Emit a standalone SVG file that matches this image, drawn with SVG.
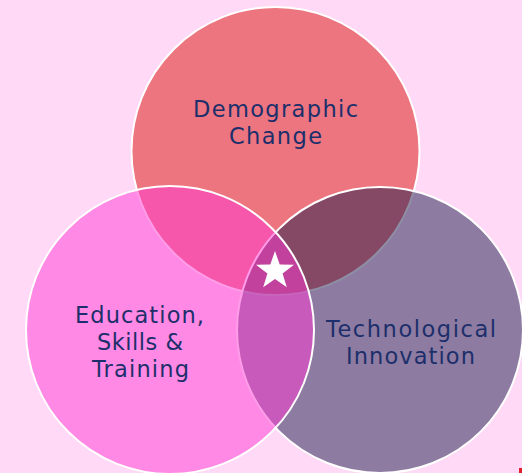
<svg xmlns="http://www.w3.org/2000/svg" width="522" height="473" viewBox="0 0 522 473">
  <style>
    .ring { stroke: #ffffff; stroke-width: 2; }
    .label { font-family: "DejaVu Sans", "Noto Sans", sans-serif; font-size: 22.5px; fill: #1c2f6b; text-anchor: middle; }
  </style>
  <defs>
    <polygon id="star" points="0,-20 4.7,-6.5 19,-6.2 7.6,2.5 11.8,16.2 0,8 -11.8,16.2 -7.6,2.5 -19,-6.2 -4.7,-6.5"/>
  </defs>

  <!-- backdrop -->
  <rect x="0" y="0" width="522" height="473" fill="#ffd9f6"/>

  <!-- top circle: demographic change -->
  <g id="demographic-change">
    <circle class="ring" cx="275.5" cy="151" r="144" fill="#ec7580"/>
  </g>

  <!-- right circle: technological innovation (translucent navy) -->
  <g id="technological-innovation">
    <circle class="ring" cx="380" cy="330" r="143" fill="rgb(29,30,75)" fill-opacity="0.5"/>
  </g>

  <!-- left circle: education, skills & training (translucent magenta) -->
  <g id="education-skills-training">
    <circle class="ring" cx="170" cy="330" r="144" fill="rgb(255,58,212)" fill-opacity="0.5"/>
  </g>

  <!-- the diagram has no connectors -->
  <g id="connectors"></g>

  <!-- labels -->
  <g id="labels">
    <text class="label" x="275.5" y="117" textLength="165" lengthAdjust="spacing">Demographic</text>
    <text class="label" x="275.5" y="144" textLength="93" lengthAdjust="spacing">Change</text>
    <text class="label" x="139.5" y="323" textLength="129" lengthAdjust="spacing">Education,</text>
    <text class="label" x="140" y="350" textLength="86" lengthAdjust="spacing">Skills &amp;</text>
    <text class="label" x="140.5" y="377" textLength="97" lengthAdjust="spacing">Training</text>
    <text class="label" x="411" y="337" textLength="170" lengthAdjust="spacing">Technological</text>
    <text class="label" x="410.5" y="363.5" textLength="129" lengthAdjust="spacing">Innovation</text>
  </g>

  <!-- centre star -->
  <g id="centre-star">
    <use href="#star" x="275" y="271" fill="#ffffff"/>
  </g>

  <!-- small red corner mark -->
  <rect x="519" y="468" width="3" height="5" fill="#e0202a"/>
</svg>
